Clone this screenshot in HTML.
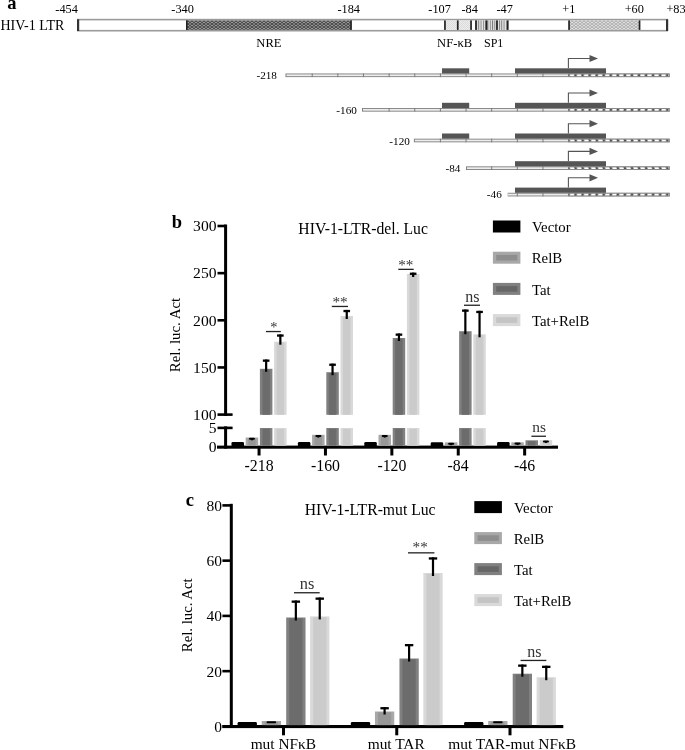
<!DOCTYPE html>
<html><head><meta charset="utf-8"><style>
html,body{margin:0;padding:0;background:#fff;}
svg{display:block;will-change:transform;}
text{font-family:"Liberation Serif",serif;}
</style></head><body>
<svg width="685" height="750" viewBox="0 0 685 750">
<defs>
<pattern id="xh" width="4" height="3" patternUnits="userSpaceOnUse">
<rect width="4" height="3" fill="#9a9a9a"/>
<path d="M0 0 L4 3 M0 3 L4 0" stroke="#3a3a3a" stroke-width="0.9"/>
</pattern>
<pattern id="lxh" width="4" height="3" patternUnits="userSpaceOnUse">
<rect width="4" height="3" fill="#e2e2e2"/>
<path d="M0 0 L4 3 M0 3 L4 0" stroke="#9a9a9a" stroke-width="0.7"/>
</pattern>
<pattern id="dots" width="2" height="2" patternUnits="userSpaceOnUse">
<rect width="2" height="2" fill="#ededed"/>
<rect x="0" y="0" width="1" height="1" fill="#dadada"/>
<rect x="1" y="1" width="1" height="1" fill="#dadada"/>
</pattern>
<pattern id="sp1" width="2.3" height="10" patternUnits="userSpaceOnUse" x="476">
<rect width="2.3" height="10" fill="#e4e4e4"/>
<rect x="0" width="0.9" height="10" fill="#7a7a7a"/>
</pattern>
<pattern id="hatch" width="7.05" height="4" patternUnits="userSpaceOnUse" x="568.55">
<rect width="7.05" height="4" fill="#505050"/>
<path d="M1.5 0 L6.0 0 L5.6 4 L1.1 4 Z" fill="#ffffff"/>
</pattern>
</defs>
<rect width="685" height="750" fill="#fff"/>
<text x="7.35" y="9.10" font-size="18.5" font-weight="bold" fill="#000">a</text>
<text x="0.48" y="29.80" font-size="14.0" fill="#000">HIV-1 LTR</text>
<text x="55.31" y="12.80" font-size="12.3" fill="#000">-454</text>
<text x="171.31" y="12.80" font-size="12.3" fill="#000">-340</text>
<text x="337.41" y="12.80" font-size="12.3" fill="#000">-184</text>
<text x="428.31" y="12.80" font-size="12.3" fill="#000">-107</text>
<text x="461.51" y="12.80" font-size="12.3" fill="#000">-84</text>
<text x="496.51" y="12.80" font-size="12.3" fill="#000">-47</text>
<text x="562.28" y="12.80" font-size="12.3" fill="#000">+1</text>
<text x="624.68" y="12.80" font-size="12.3" fill="#000">+60</text>
<text x="666.38" y="12.80" font-size="12.3" fill="#000">+83</text>
<rect x="77.00" y="18.80" width="591.00" height="12.70" fill="#9a9a9a"/>
<rect x="77.00" y="20.40" width="591.00" height="9.50" fill="#ffffff"/>
<rect x="186.00" y="20.40" width="165.60" height="9.50" fill="url(#xh)"/>
<rect x="186.00" y="20.40" width="1.60" height="9.50" fill="#222"/>
<rect x="350.20" y="20.40" width="1.60" height="9.50" fill="#222"/>
<rect x="445.00" y="20.40" width="26.00" height="9.50" fill="url(#dots)"/>
<rect x="476.00" y="20.40" width="32.00" height="9.50" fill="url(#sp1)"/>
<rect x="444.10" y="20.40" width="1.70" height="9.50" fill="#222"/>
<rect x="456.90" y="20.40" width="1.70" height="9.50" fill="#222"/>
<rect x="470.20" y="20.40" width="1.70" height="9.50" fill="#222"/>
<rect x="475.10" y="20.40" width="1.70" height="9.50" fill="#222"/>
<rect x="485.70" y="20.40" width="1.70" height="9.50" fill="#222"/>
<rect x="496.10" y="20.40" width="1.70" height="9.50" fill="#222"/>
<rect x="506.90" y="20.40" width="1.70" height="9.50" fill="#222"/>
<rect x="569.00" y="20.40" width="70.50" height="9.50" fill="url(#lxh)"/>
<rect x="568.20" y="20.40" width="1.70" height="9.50" fill="#222"/>
<rect x="638.70" y="20.40" width="1.70" height="9.50" fill="#222"/>
<rect x="77.00" y="19.30" width="2.20" height="11.70" fill="#333"/>
<rect x="666.00" y="19.30" width="2.20" height="11.70" fill="#333"/>
<text x="256.32" y="46.70" font-size="12.6" fill="#000">NRE</text>
<text x="437.12" y="47.00" font-size="12.6" fill="#000">NF-κB</text>
<text x="483.96" y="47.00" font-size="12.0" fill="#000">SP1</text>
<text x="256.45" y="79.10" font-size="11.2" fill="#000">-218</text>
<rect x="285.50" y="73.50" width="384.20" height="3.60" fill="#7a7a7a"/>
<rect x="286.40" y="74.35" width="281.80" height="1.90" fill="#ececec"/>
<rect x="568.20" y="73.50" width="101.50" height="3.60" fill="#8a8a8a"/>
<rect x="568.60" y="74.50" width="100.50" height="1.60" fill="url(#hatch)"/>
<rect x="542.46" y="73.50" width="1.00" height="3.60" fill="#7a7a7a"/>
<rect x="516.82" y="73.50" width="1.00" height="3.60" fill="#7a7a7a"/>
<rect x="491.18" y="73.50" width="1.00" height="3.60" fill="#7a7a7a"/>
<rect x="465.54" y="73.50" width="1.00" height="3.60" fill="#7a7a7a"/>
<rect x="439.90" y="73.50" width="1.00" height="3.60" fill="#7a7a7a"/>
<rect x="414.26" y="73.50" width="1.00" height="3.60" fill="#7a7a7a"/>
<rect x="388.62" y="73.50" width="1.00" height="3.60" fill="#7a7a7a"/>
<rect x="362.98" y="73.50" width="1.00" height="3.60" fill="#7a7a7a"/>
<rect x="337.34" y="73.50" width="1.00" height="3.60" fill="#7a7a7a"/>
<rect x="311.70" y="73.50" width="1.00" height="3.60" fill="#7a7a7a"/>
<rect x="442.00" y="68.30" width="27.20" height="5.20" fill="#555555"/>
<rect x="515.00" y="68.30" width="91.00" height="5.20" fill="#555555"/>
<path d="M568.4 68.30 V58.50 H590" fill="none" stroke="#555" stroke-width="1.1"/>
<path d="M589.5 54.90 L598 58.50 L589.5 62.10 Z" fill="#555" stroke="none" stroke-width="1"/>
<text x="336.35" y="113.60" font-size="11.2" fill="#000">-160</text>
<rect x="362.00" y="108.00" width="307.70" height="3.60" fill="#7a7a7a"/>
<rect x="362.90" y="108.85" width="205.30" height="1.90" fill="#ececec"/>
<rect x="568.20" y="108.00" width="101.50" height="3.60" fill="#8a8a8a"/>
<rect x="568.60" y="109.00" width="100.50" height="1.60" fill="url(#hatch)"/>
<rect x="542.46" y="108.00" width="1.00" height="3.60" fill="#7a7a7a"/>
<rect x="516.82" y="108.00" width="1.00" height="3.60" fill="#7a7a7a"/>
<rect x="491.18" y="108.00" width="1.00" height="3.60" fill="#7a7a7a"/>
<rect x="465.54" y="108.00" width="1.00" height="3.60" fill="#7a7a7a"/>
<rect x="439.90" y="108.00" width="1.00" height="3.60" fill="#7a7a7a"/>
<rect x="414.26" y="108.00" width="1.00" height="3.60" fill="#7a7a7a"/>
<rect x="388.62" y="108.00" width="1.00" height="3.60" fill="#7a7a7a"/>
<rect x="442.00" y="102.80" width="27.20" height="5.20" fill="#555555"/>
<rect x="515.00" y="102.80" width="91.00" height="5.20" fill="#555555"/>
<path d="M568.4 102.80 V93.00 H590" fill="none" stroke="#555" stroke-width="1.1"/>
<path d="M589.5 89.40 L598 93.00 L589.5 96.60 Z" fill="#555" stroke="none" stroke-width="1"/>
<text x="389.35" y="145.20" font-size="11.2" fill="#000">-120</text>
<rect x="413.90" y="138.70" width="255.80" height="3.60" fill="#7a7a7a"/>
<rect x="414.80" y="139.55" width="153.40" height="1.90" fill="#ececec"/>
<rect x="568.20" y="138.70" width="101.50" height="3.60" fill="#8a8a8a"/>
<rect x="568.60" y="139.70" width="100.50" height="1.60" fill="url(#hatch)"/>
<rect x="542.46" y="138.70" width="1.00" height="3.60" fill="#7a7a7a"/>
<rect x="516.82" y="138.70" width="1.00" height="3.60" fill="#7a7a7a"/>
<rect x="491.18" y="138.70" width="1.00" height="3.60" fill="#7a7a7a"/>
<rect x="465.54" y="138.70" width="1.00" height="3.60" fill="#7a7a7a"/>
<rect x="439.90" y="138.70" width="1.00" height="3.60" fill="#7a7a7a"/>
<rect x="442.00" y="133.50" width="27.20" height="5.20" fill="#555555"/>
<rect x="515.00" y="133.50" width="91.00" height="5.20" fill="#555555"/>
<path d="M568.4 133.50 V123.70 H590" fill="none" stroke="#555" stroke-width="1.1"/>
<path d="M589.5 120.10 L598 123.70 L589.5 127.30 Z" fill="#555" stroke="none" stroke-width="1"/>
<text x="445.55" y="171.80" font-size="11.2" fill="#000">-84</text>
<rect x="466.00" y="166.40" width="203.70" height="3.60" fill="#7a7a7a"/>
<rect x="466.90" y="167.25" width="101.30" height="1.90" fill="#ececec"/>
<rect x="568.20" y="166.40" width="101.50" height="3.60" fill="#8a8a8a"/>
<rect x="568.60" y="167.40" width="100.50" height="1.60" fill="url(#hatch)"/>
<rect x="542.46" y="166.40" width="1.00" height="3.60" fill="#7a7a7a"/>
<rect x="516.82" y="166.40" width="1.00" height="3.60" fill="#7a7a7a"/>
<rect x="491.18" y="166.40" width="1.00" height="3.60" fill="#7a7a7a"/>
<rect x="515.00" y="161.20" width="91.00" height="5.20" fill="#555555"/>
<path d="M568.4 161.20 V151.40 H590" fill="none" stroke="#555" stroke-width="1.1"/>
<path d="M589.5 147.80 L598 151.40 L589.5 155.00 Z" fill="#555" stroke="none" stroke-width="1"/>
<text x="486.85" y="198.00" font-size="11.2" fill="#000">-46</text>
<rect x="507.70" y="192.80" width="162.00" height="3.60" fill="#7a7a7a"/>
<rect x="507.70" y="193.65" width="60.50" height="1.90" fill="#ececec"/>
<rect x="568.20" y="192.80" width="101.50" height="3.60" fill="#8a8a8a"/>
<rect x="568.60" y="193.80" width="100.50" height="1.60" fill="url(#hatch)"/>
<rect x="542.46" y="192.80" width="1.00" height="3.60" fill="#7a7a7a"/>
<rect x="516.82" y="192.80" width="1.00" height="3.60" fill="#7a7a7a"/>
<rect x="515.00" y="187.60" width="91.00" height="5.20" fill="#555555"/>
<path d="M568.4 187.60 V177.80 H590" fill="none" stroke="#555" stroke-width="1.1"/>
<path d="M589.5 174.20 L598 177.80 L589.5 181.40 Z" fill="#555" stroke="none" stroke-width="1"/>
<text x="171.81" y="228.20" font-size="18.5" font-weight="bold" fill="#000">b</text>
<rect x="224.10" y="224.50" width="3.00" height="191.40" fill="#000"/>
<rect x="224.10" y="426.40" width="3.00" height="22.20" fill="#000"/>
<rect x="217.50" y="224.70" width="8.10" height="2.60" fill="#000"/>
<rect x="217.50" y="271.85" width="8.10" height="2.60" fill="#000"/>
<rect x="217.50" y="319.00" width="8.10" height="2.60" fill="#000"/>
<rect x="217.50" y="366.15" width="8.10" height="2.60" fill="#000"/>
<rect x="217.50" y="413.30" width="15.10" height="2.60" fill="#000"/>
<rect x="217.50" y="426.60" width="15.10" height="2.60" fill="#000"/>
<rect x="217.00" y="445.60" width="341.00" height="3.10" fill="#000"/>
<text x="193.12" y="231.30" font-size="15.6" fill="#000">300</text>
<text x="193.12" y="278.45" font-size="15.6" fill="#000">250</text>
<text x="193.12" y="325.60" font-size="15.6" fill="#000">200</text>
<text x="193.12" y="372.75" font-size="15.6" fill="#000">150</text>
<text x="193.12" y="419.90" font-size="15.6" fill="#000">100</text>
<text x="208.72" y="433.20" font-size="15.6" fill="#000">5</text>
<text x="208.72" y="452.40" font-size="15.6" fill="#000">0</text>
<text x="298.33" y="234.30" font-size="15.7" fill="#000">HIV-1-LTR-del. Luc</text>
<g transform="translate(179.8,334.8) rotate(-90)">
<text x="-37.40" y="0.00" font-size="14.9" fill="#000">Rel. luc. Act</text>
</g>
<rect x="492.90" y="220.50" width="27.50" height="12.00" fill="#000"/>
<text x="532.05" y="232.10" font-size="14.8" fill="#000">Vector</text>
<rect x="492.90" y="251.70" width="27.50" height="12.00" fill="#a8a8a8"/>
<rect x="496.20" y="254.90" width="21.20" height="5.60" fill="#8e8e8e"/>
<text x="531.76" y="263.30" font-size="14.8" fill="#000">RelB</text>
<rect x="492.90" y="282.90" width="27.50" height="12.00" fill="#808080"/>
<rect x="496.20" y="286.10" width="21.20" height="5.60" fill="#666666"/>
<text x="531.90" y="294.50" font-size="14.8" fill="#000">Tat</text>
<rect x="492.90" y="314.10" width="27.50" height="12.00" fill="#d9d9d9"/>
<rect x="496.20" y="317.30" width="21.20" height="5.60" fill="#c4c4c4"/>
<text x="531.90" y="325.70" font-size="14.8" fill="#000">Tat+RelB</text>
<rect x="257.55" y="447.00" width="3.00" height="8.50" fill="#000"/>
<text x="244.59" y="470.50" font-size="15.8" fill="#000">-218</text>
<rect x="231.50" y="442.00" width="12.50" height="5.60" fill="#000" rx="1.3"/>
<rect x="245.70" y="437.50" width="12.50" height="8.10" fill="#a8a8a8"/>
<rect x="248.20" y="438.30" width="7.50" height="7.30" fill="#979797"/>
<rect x="248.95" y="437.80" width="6.00" height="2.00" fill="#000" rx="1"/>
<rect x="250.95" y="439.00" width="2.00" height="1.30" fill="#000"/>
<rect x="259.90" y="368.80" width="12.50" height="46.00" fill="#808080"/>
<rect x="262.40" y="369.60" width="7.50" height="45.20" fill="#6c6c6c"/>
<rect x="259.90" y="428.00" width="12.50" height="17.60" fill="#808080"/>
<rect x="262.40" y="428.80" width="7.50" height="16.80" fill="#6c6c6c"/>
<rect x="265.05" y="359.50" width="2.20" height="12.30" fill="#000"/>
<rect x="262.85" y="359.50" width="6.60" height="2.30" fill="#000"/>
<rect x="274.10" y="341.70" width="12.50" height="73.10" fill="#d9d9d9"/>
<rect x="276.60" y="342.50" width="7.50" height="72.30" fill="#cbcbcb"/>
<rect x="274.10" y="428.00" width="12.50" height="17.60" fill="#d9d9d9"/>
<rect x="276.60" y="428.80" width="7.50" height="16.80" fill="#cbcbcb"/>
<rect x="279.25" y="334.40" width="2.20" height="10.30" fill="#000"/>
<rect x="277.05" y="334.40" width="6.60" height="2.30" fill="#000"/>
<rect x="323.95" y="447.00" width="3.00" height="8.50" fill="#000"/>
<text x="310.99" y="470.50" font-size="15.8" fill="#000">-160</text>
<rect x="297.90" y="442.00" width="12.50" height="5.60" fill="#000" rx="1.3"/>
<rect x="312.10" y="434.80" width="12.50" height="10.80" fill="#a8a8a8"/>
<rect x="314.60" y="435.60" width="7.50" height="10.00" fill="#979797"/>
<rect x="315.35" y="435.10" width="6.00" height="2.00" fill="#000" rx="1"/>
<rect x="317.35" y="436.30" width="2.00" height="1.30" fill="#000"/>
<rect x="326.30" y="372.20" width="12.50" height="42.60" fill="#808080"/>
<rect x="328.80" y="373.00" width="7.50" height="41.80" fill="#6c6c6c"/>
<rect x="326.30" y="428.00" width="12.50" height="17.60" fill="#808080"/>
<rect x="328.80" y="428.80" width="7.50" height="16.80" fill="#6c6c6c"/>
<rect x="331.45" y="363.60" width="2.20" height="11.60" fill="#000"/>
<rect x="329.25" y="363.60" width="6.60" height="2.30" fill="#000"/>
<rect x="340.50" y="316.00" width="12.50" height="98.80" fill="#d9d9d9"/>
<rect x="343.00" y="316.80" width="7.50" height="98.00" fill="#cbcbcb"/>
<rect x="340.50" y="428.00" width="12.50" height="17.60" fill="#d9d9d9"/>
<rect x="343.00" y="428.80" width="7.50" height="16.80" fill="#cbcbcb"/>
<rect x="345.65" y="309.90" width="2.20" height="9.10" fill="#000"/>
<rect x="343.45" y="309.90" width="6.60" height="2.30" fill="#000"/>
<rect x="390.35" y="447.00" width="3.00" height="8.50" fill="#000"/>
<text x="377.39" y="470.50" font-size="15.8" fill="#000">-120</text>
<rect x="364.30" y="442.00" width="12.50" height="5.60" fill="#000" rx="1.3"/>
<rect x="378.50" y="434.80" width="12.50" height="10.80" fill="#a8a8a8"/>
<rect x="381.00" y="435.60" width="7.50" height="10.00" fill="#979797"/>
<rect x="381.75" y="435.10" width="6.00" height="2.00" fill="#000" rx="1"/>
<rect x="383.75" y="436.30" width="2.00" height="1.30" fill="#000"/>
<rect x="392.70" y="338.00" width="12.50" height="76.80" fill="#808080"/>
<rect x="395.20" y="338.80" width="7.50" height="76.00" fill="#6c6c6c"/>
<rect x="392.70" y="428.00" width="12.50" height="17.60" fill="#808080"/>
<rect x="395.20" y="428.80" width="7.50" height="16.80" fill="#6c6c6c"/>
<rect x="397.85" y="333.50" width="2.20" height="7.50" fill="#000"/>
<rect x="395.65" y="333.50" width="6.60" height="2.30" fill="#000"/>
<rect x="406.90" y="274.00" width="12.50" height="140.80" fill="#d9d9d9"/>
<rect x="409.40" y="274.80" width="7.50" height="140.00" fill="#cbcbcb"/>
<rect x="406.90" y="428.00" width="12.50" height="17.60" fill="#d9d9d9"/>
<rect x="409.40" y="428.80" width="7.50" height="16.80" fill="#cbcbcb"/>
<rect x="412.05" y="272.60" width="2.20" height="4.40" fill="#000"/>
<rect x="409.85" y="272.60" width="6.60" height="2.30" fill="#000"/>
<rect x="456.75" y="447.00" width="3.00" height="8.50" fill="#000"/>
<text x="447.51" y="470.50" font-size="15.8" fill="#000">-84</text>
<rect x="430.70" y="442.20" width="12.50" height="5.40" fill="#000" rx="1.3"/>
<rect x="444.90" y="442.40" width="12.50" height="3.20" fill="#a8a8a8"/>
<rect x="447.40" y="443.20" width="7.50" height="2.40" fill="#979797"/>
<rect x="448.15" y="442.70" width="6.00" height="2.00" fill="#000" rx="1"/>
<rect x="450.15" y="443.90" width="2.00" height="1.30" fill="#000"/>
<rect x="459.10" y="331.20" width="12.50" height="83.60" fill="#808080"/>
<rect x="461.60" y="332.00" width="7.50" height="82.80" fill="#6c6c6c"/>
<rect x="459.10" y="428.00" width="12.50" height="17.60" fill="#808080"/>
<rect x="461.60" y="428.80" width="7.50" height="16.80" fill="#6c6c6c"/>
<rect x="464.25" y="309.50" width="2.20" height="24.70" fill="#000"/>
<rect x="462.05" y="309.50" width="6.60" height="2.30" fill="#000"/>
<rect x="473.30" y="334.30" width="12.50" height="80.50" fill="#d9d9d9"/>
<rect x="475.80" y="335.10" width="7.50" height="79.70" fill="#cbcbcb"/>
<rect x="473.30" y="428.00" width="12.50" height="17.60" fill="#d9d9d9"/>
<rect x="475.80" y="428.80" width="7.50" height="16.80" fill="#cbcbcb"/>
<rect x="478.45" y="310.80" width="2.20" height="26.50" fill="#000"/>
<rect x="476.25" y="310.80" width="6.60" height="2.30" fill="#000"/>
<rect x="523.15" y="447.00" width="3.00" height="8.50" fill="#000"/>
<text x="514.06" y="470.50" font-size="15.8" fill="#000">-46</text>
<rect x="497.10" y="442.00" width="12.50" height="5.60" fill="#000" rx="1.3"/>
<rect x="511.30" y="442.30" width="12.50" height="3.30" fill="#a8a8a8"/>
<rect x="513.80" y="443.10" width="7.50" height="2.50" fill="#979797"/>
<rect x="514.55" y="442.60" width="6.00" height="2.00" fill="#000" rx="1"/>
<rect x="516.55" y="443.80" width="2.00" height="1.30" fill="#000"/>
<rect x="525.50" y="440.30" width="12.50" height="5.30" fill="#808080"/>
<rect x="528.00" y="441.10" width="7.50" height="4.50" fill="#6c6c6c"/>
<rect x="539.70" y="440.10" width="12.50" height="5.50" fill="#d9d9d9"/>
<rect x="542.20" y="440.90" width="7.50" height="4.70" fill="#cbcbcb"/>
<rect x="542.95" y="440.40" width="6.00" height="2.00" fill="#000" rx="1"/>
<rect x="544.95" y="441.60" width="2.00" height="1.30" fill="#000"/>
<rect x="265.90" y="330.90" width="14.90" height="1.30" fill="#222"/>
<text x="270.28" y="331.56" font-size="14.4" fill="#333">*</text>
<rect x="331.80" y="305.80" width="16.20" height="1.30" fill="#222"/>
<text x="332.44" y="306.58" font-size="15.2" fill="#333">**</text>
<rect x="398.30" y="268.70" width="15.40" height="1.30" fill="#222"/>
<text x="398.24" y="269.58" font-size="15.2" fill="#333">**</text>
<rect x="464.00" y="304.60" width="16.00" height="1.30" fill="#222"/>
<text x="465.28" y="301.60" font-size="16" fill="#333">ns</text>
<rect x="531.40" y="435.60" width="14.60" height="1.30" fill="#222"/>
<text x="532.29" y="431.50" font-size="15.4" fill="#333">ns</text>
<text x="185.75" y="506.10" font-size="18.5" font-weight="bold" fill="#000">c</text>
<rect x="229.80" y="503.80" width="3.00" height="224.20" fill="#000"/>
<rect x="222.40" y="504.10" width="8.90" height="2.60" fill="#000"/>
<text x="206.52" y="510.90" font-size="15.5" fill="#000">80</text>
<rect x="222.40" y="559.35" width="8.90" height="2.60" fill="#000"/>
<text x="206.52" y="566.15" font-size="15.5" fill="#000">60</text>
<rect x="222.40" y="614.60" width="8.90" height="2.60" fill="#000"/>
<text x="206.52" y="621.40" font-size="15.5" fill="#000">40</text>
<rect x="222.40" y="669.85" width="8.90" height="2.60" fill="#000"/>
<text x="206.52" y="676.65" font-size="15.5" fill="#000">20</text>
<rect x="222.40" y="725.10" width="8.90" height="2.60" fill="#000"/>
<text x="214.27" y="731.90" font-size="15.5" fill="#000">0</text>
<rect x="222.40" y="725.00" width="340.90" height="3.10" fill="#000"/>
<text x="304.73" y="515.20" font-size="15.7" fill="#000">HIV-1-LTR-mut Luc</text>
<g transform="translate(192.4,615.1) rotate(-90)">
<text x="-37.15" y="0.00" font-size="14.8" fill="#000">Rel. luc. Act</text>
</g>
<rect x="474.30" y="501.10" width="27.60" height="12.00" fill="#000"/>
<text x="514.05" y="512.50" font-size="14.8" fill="#000">Vector</text>
<rect x="474.30" y="532.10" width="27.60" height="12.00" fill="#a8a8a8"/>
<rect x="477.60" y="535.30" width="21.20" height="5.60" fill="#8e8e8e"/>
<text x="513.76" y="543.50" font-size="14.8" fill="#000">RelB</text>
<rect x="474.30" y="563.10" width="27.60" height="12.00" fill="#808080"/>
<rect x="477.60" y="566.30" width="21.20" height="5.60" fill="#666666"/>
<text x="513.90" y="574.50" font-size="14.8" fill="#000">Tat</text>
<rect x="474.30" y="594.10" width="27.60" height="12.00" fill="#d9d9d9"/>
<rect x="477.60" y="597.30" width="21.20" height="5.60" fill="#c4c4c4"/>
<text x="513.90" y="605.50" font-size="14.8" fill="#000">Tat+RelB</text>
<rect x="282.00" y="727.00" width="3.00" height="8.30" fill="#000"/>
<text x="250.63" y="748.70" font-size="15.4" fill="#000">mut NFκB</text>
<rect x="237.60" y="721.90" width="19.30" height="5.20" fill="#000" rx="1.3"/>
<rect x="261.70" y="721.00" width="19.30" height="4.10" fill="#a8a8a8"/>
<rect x="264.70" y="721.80" width="13.30" height="3.30" fill="#979797"/>
<rect x="266.55" y="721.30" width="9.60" height="2.00" fill="#000" rx="1"/>
<rect x="286.20" y="617.50" width="19.30" height="107.60" fill="#808080"/>
<rect x="289.20" y="618.30" width="13.30" height="106.80" fill="#6c6c6c"/>
<rect x="294.75" y="600.50" width="2.20" height="20.00" fill="#000"/>
<rect x="291.65" y="600.50" width="8.40" height="2.30" fill="#000"/>
<rect x="310.10" y="616.40" width="19.30" height="108.70" fill="#d9d9d9"/>
<rect x="313.10" y="617.20" width="13.30" height="107.90" fill="#cbcbcb"/>
<rect x="318.65" y="597.50" width="2.20" height="21.90" fill="#000"/>
<rect x="315.55" y="597.50" width="8.40" height="2.30" fill="#000"/>
<rect x="395.25" y="727.00" width="3.00" height="8.30" fill="#000"/>
<text x="367.68" y="748.70" font-size="15.4" fill="#000">mut TAR</text>
<rect x="350.85" y="722.00" width="19.30" height="5.10" fill="#000" rx="1.3"/>
<rect x="374.95" y="711.50" width="19.30" height="13.60" fill="#a8a8a8"/>
<rect x="377.95" y="712.30" width="13.30" height="12.80" fill="#979797"/>
<rect x="383.50" y="707.10" width="2.20" height="7.40" fill="#000"/>
<rect x="380.40" y="707.10" width="8.40" height="2.30" fill="#000"/>
<rect x="399.45" y="658.50" width="19.30" height="66.60" fill="#808080"/>
<rect x="402.45" y="659.30" width="13.30" height="65.80" fill="#6c6c6c"/>
<rect x="408.00" y="644.00" width="2.20" height="17.50" fill="#000"/>
<rect x="404.90" y="644.00" width="8.40" height="2.30" fill="#000"/>
<rect x="423.35" y="573.00" width="19.30" height="152.10" fill="#d9d9d9"/>
<rect x="426.35" y="573.80" width="13.30" height="151.30" fill="#cbcbcb"/>
<rect x="431.90" y="557.30" width="2.20" height="18.70" fill="#000"/>
<rect x="428.80" y="557.30" width="8.40" height="2.30" fill="#000"/>
<rect x="508.50" y="727.00" width="3.00" height="8.30" fill="#000"/>
<text x="448.32" y="748.70" font-size="15.4" fill="#000">mut TAR-mut NFκB</text>
<rect x="464.10" y="722.00" width="19.30" height="5.10" fill="#000" rx="1.3"/>
<rect x="488.20" y="721.00" width="19.30" height="4.10" fill="#a8a8a8"/>
<rect x="491.20" y="721.80" width="13.30" height="3.30" fill="#979797"/>
<rect x="493.05" y="721.30" width="9.60" height="2.00" fill="#000" rx="1"/>
<rect x="512.70" y="673.70" width="19.30" height="51.40" fill="#808080"/>
<rect x="515.70" y="674.50" width="13.30" height="50.60" fill="#6c6c6c"/>
<rect x="521.25" y="664.50" width="2.20" height="12.20" fill="#000"/>
<rect x="518.15" y="664.50" width="8.40" height="2.30" fill="#000"/>
<rect x="536.60" y="677.20" width="19.30" height="47.90" fill="#d9d9d9"/>
<rect x="539.60" y="678.00" width="13.30" height="47.10" fill="#cbcbcb"/>
<rect x="545.15" y="665.70" width="2.20" height="14.50" fill="#000"/>
<rect x="542.05" y="665.70" width="8.40" height="2.30" fill="#000"/>
<rect x="294.00" y="592.10" width="25.70" height="1.30" fill="#222"/>
<text x="299.77" y="589.20" font-size="16.4" fill="#333">ns</text>
<rect x="408.00" y="552.20" width="26.40" height="1.30" fill="#222"/>
<text x="412.54" y="552.48" font-size="15.2" fill="#333">**</text>
<rect x="520.60" y="659.80" width="25.70" height="1.30" fill="#222"/>
<text x="527.28" y="656.70" font-size="16" fill="#333">ns</text>
</svg>
</body></html>
